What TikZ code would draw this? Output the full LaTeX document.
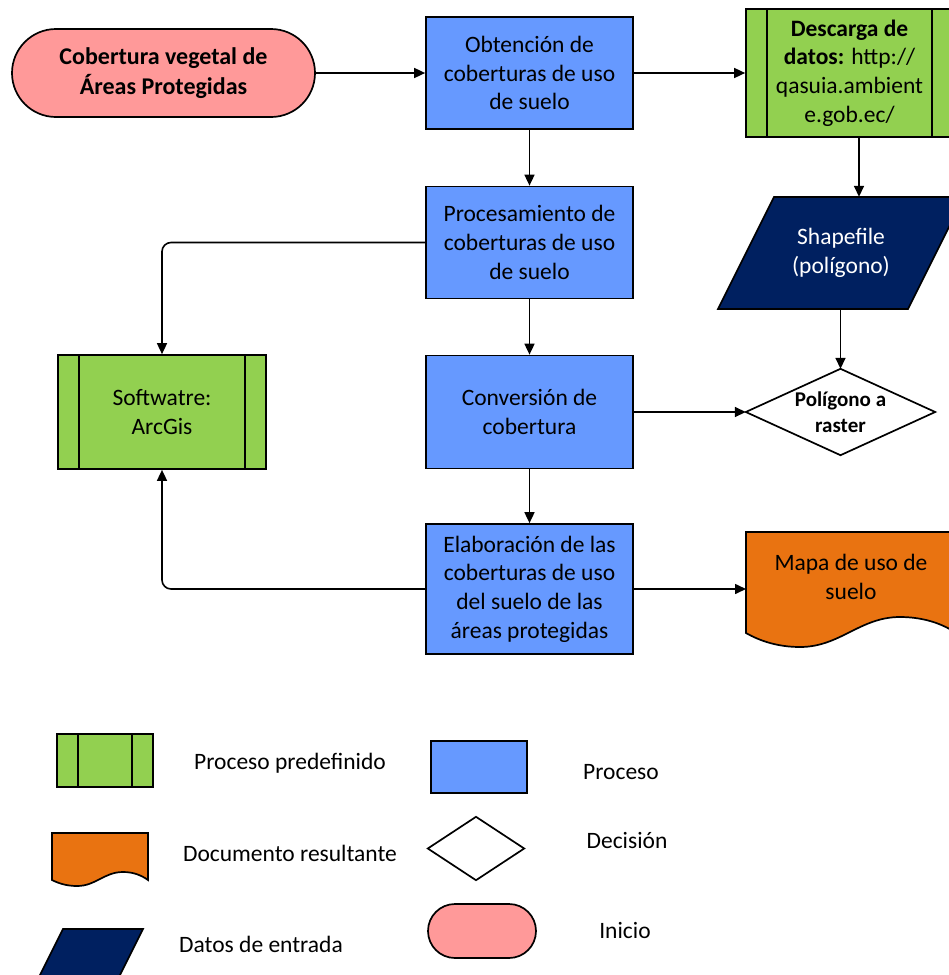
\documentclass[tikz,border=0pt]{standalone}
\usepackage{fontspec}
\setmainfont{Carlito}
\usetikzlibrary{arrows.meta,shapes.misc,calc}
\definecolor{procblue}{HTML}{6699FF}
\definecolor{predgreen}{HTML}{92D050}
\definecolor{startpink}{HTML}{FF9999}
\definecolor{datanavy}{HTML}{002060}
\definecolor{docorange}{HTML}{E97311}
\newcommand{\myfs}{\fontsize{23.5}{28.7}\selectfont}
\begin{document}
\begin{tikzpicture}[x=1pt,y=-1pt,
  shapeline/.style={draw=black, line width=1.7pt},
  base/.style={shapeline, inner sep=0pt, align=center, font=\myfs},
  procbox/.style={base, rectangle, fill=procblue, minimum width=207pt, minimum height=112pt},
  predef/.style={base, rectangle, fill=predgreen},
  term/.style={base, rounded rectangle, fill=startpink},
  lbl/.style={inner sep=0pt, align=center, font=\myfs},
  conn/.style={line width=1.6pt, -{Triangle[length=11pt,width=10pt]}}]
\useasboundingbox (0,0) rectangle (949,975);
\clip (0,0) rectangle (949,975);

% --- main flow nodes ---
\node[term, minimum width=303pt, minimum height=88pt,
      font=\bfseries\fontsize{24}{30}\selectfont] (start) at (163.5,73)
  {Cobertura vegetal de\\Áreas Protegidas};
\node[procbox] (obt) at (529.5,73) {Obtención de\\coberturas de uso\\de suelo};
\node[procbox] (proc) at (529.5,242.5) {Procesamiento de\\coberturas de uso\\de suelo};
\node[procbox, minimum height=113pt] (conv) at (529.5,412) {Conversión de\\cobertura};
\node[procbox, minimum height=130pt] (elab) at (529.5,589)
  {Elaboración de las\\coberturas de uso\\del suelo de las\\áreas protegidas};

\node[predef, minimum width=207pt, minimum height=128pt] (desc) at (849.5,73)
  {\textbf{Descarga de}\\\textbf{datos:} http://\\qasuia.ambient\\e.gob.ec/};
\draw[shapeline] ([xshift=22pt]desc.north west) -- ([xshift=22pt]desc.south west);
\draw[shapeline] ([xshift=-22pt]desc.north east) -- ([xshift=-22pt]desc.south east);

\node[predef, minimum width=208pt, minimum height=114pt] (soft) at (162,412)
  {Softwatre:\\ArcGis};
\draw[shapeline] ([xshift=22pt]soft.north west) -- ([xshift=22pt]soft.south west);
\draw[shapeline] ([xshift=-22pt]soft.north east) -- ([xshift=-22pt]soft.south east);

% Shapefile (data input parallelogram)
\filldraw[shapeline, fill=datanavy] (774,197) -- (964,197) -- (908,309) -- (718,309) -- cycle;
\node[lbl, minimum width=190pt, minimum height=112pt, text=white] (shp) at (841,253)
  {Shapefile\\(polígono)};

% Decision
\node[inner sep=0pt, minimum width=189pt, minimum height=86pt, align=center,
      font=\bfseries\fontsize{21}{26}\selectfont] (dia) at (840.5,412)
  {Polígono a\\raster};
\draw[shapeline] (dia.west) -- (dia.north) -- (dia.east) -- (dia.south) -- cycle;

% Result document
\filldraw[shapeline, fill=docorange] (746,532) -- (956,532) -- (956,633)
  .. controls (940,622) and (920,617) .. (900,617)
  .. controls (860,617) and (840,647) .. (800,647)
  .. controls (778,647) and (760,641) .. (746,633) -- cycle;
\node[lbl] (mapa) at (851,577) {Mapa de uso de\\suelo};
\coordinate (mapaw) at (746,589);

% --- connectors ---
\draw[conn] (start.east) -- (obt.west);
\draw[conn] (obt.east) -- (desc.west);
\draw[conn] (obt.south) -- (proc.north);
\draw[conn] ([xshift=9.5pt]desc.south) -- ([xshift=9.5pt]desc.south |- shp.north);
\draw[conn, rounded corners=9pt] (proc.west) -| (soft.north);
\draw[conn] (proc.south) -- (conv.north);
\draw[conn] (dia.north |- shp.south) -- (dia.north);
\draw[conn] (conv.east) -- (dia.west);
\draw[conn] (conv.south) -- (elab.north);
\draw[conn] (elab.east) -- (mapaw);
\draw[conn, rounded corners=9pt] (elab.west) -| (soft.south);

% --- legend ---
\node[predef, minimum width=96pt, minimum height=53pt] (lgpre) at (105,760.5) {};
\draw[shapeline] ([xshift=22pt]lgpre.north west) -- ([xshift=22pt]lgpre.south west);
\draw[shapeline] ([xshift=-22pt]lgpre.north east) -- ([xshift=-22pt]lgpre.south east);
\node[lbl] (lgpretxt) at (290,763) {Proceso predefinido};

\node[procbox, minimum width=96pt, minimum height=52pt] (lgproc) at (479,767) {};
\node[lbl] (lgproctxt) at (621,772) {Proceso};

\filldraw[shapeline, fill=docorange] (52,833) -- (148,833) -- (148,880)
  .. controls (141,875) and (133,872) .. (123,872)
  .. controls (104,872) and (96,886) .. (77,886)
  .. controls (66,886) and (58,883) .. (52,880) -- cycle;
\node[lbl] (lgdoctxt) at (290,853) {Documento resultante};

\node[inner sep=0pt, minimum width=96pt, minimum height=63pt] (lgdia) at (476,848.5) {};
\draw[shapeline] (lgdia.west) -- (lgdia.north) -- (lgdia.east) -- (lgdia.south) -- cycle;
\node[lbl] (lgdiatxt) at (627,840) {Decisión};

\filldraw[shapeline, fill=datanavy] (63,929) -- (143,929) -- (116,983) -- (36,983) -- cycle;
\node[lbl] (lgdattxt) at (261,944) {Datos de entrada};

\node[term, minimum width=108pt, minimum height=54pt] (lgterm) at (482,931) {};
\node[lbl] (lgtermtxt) at (625,930) {Inicio};
\end{tikzpicture}
\end{document}
